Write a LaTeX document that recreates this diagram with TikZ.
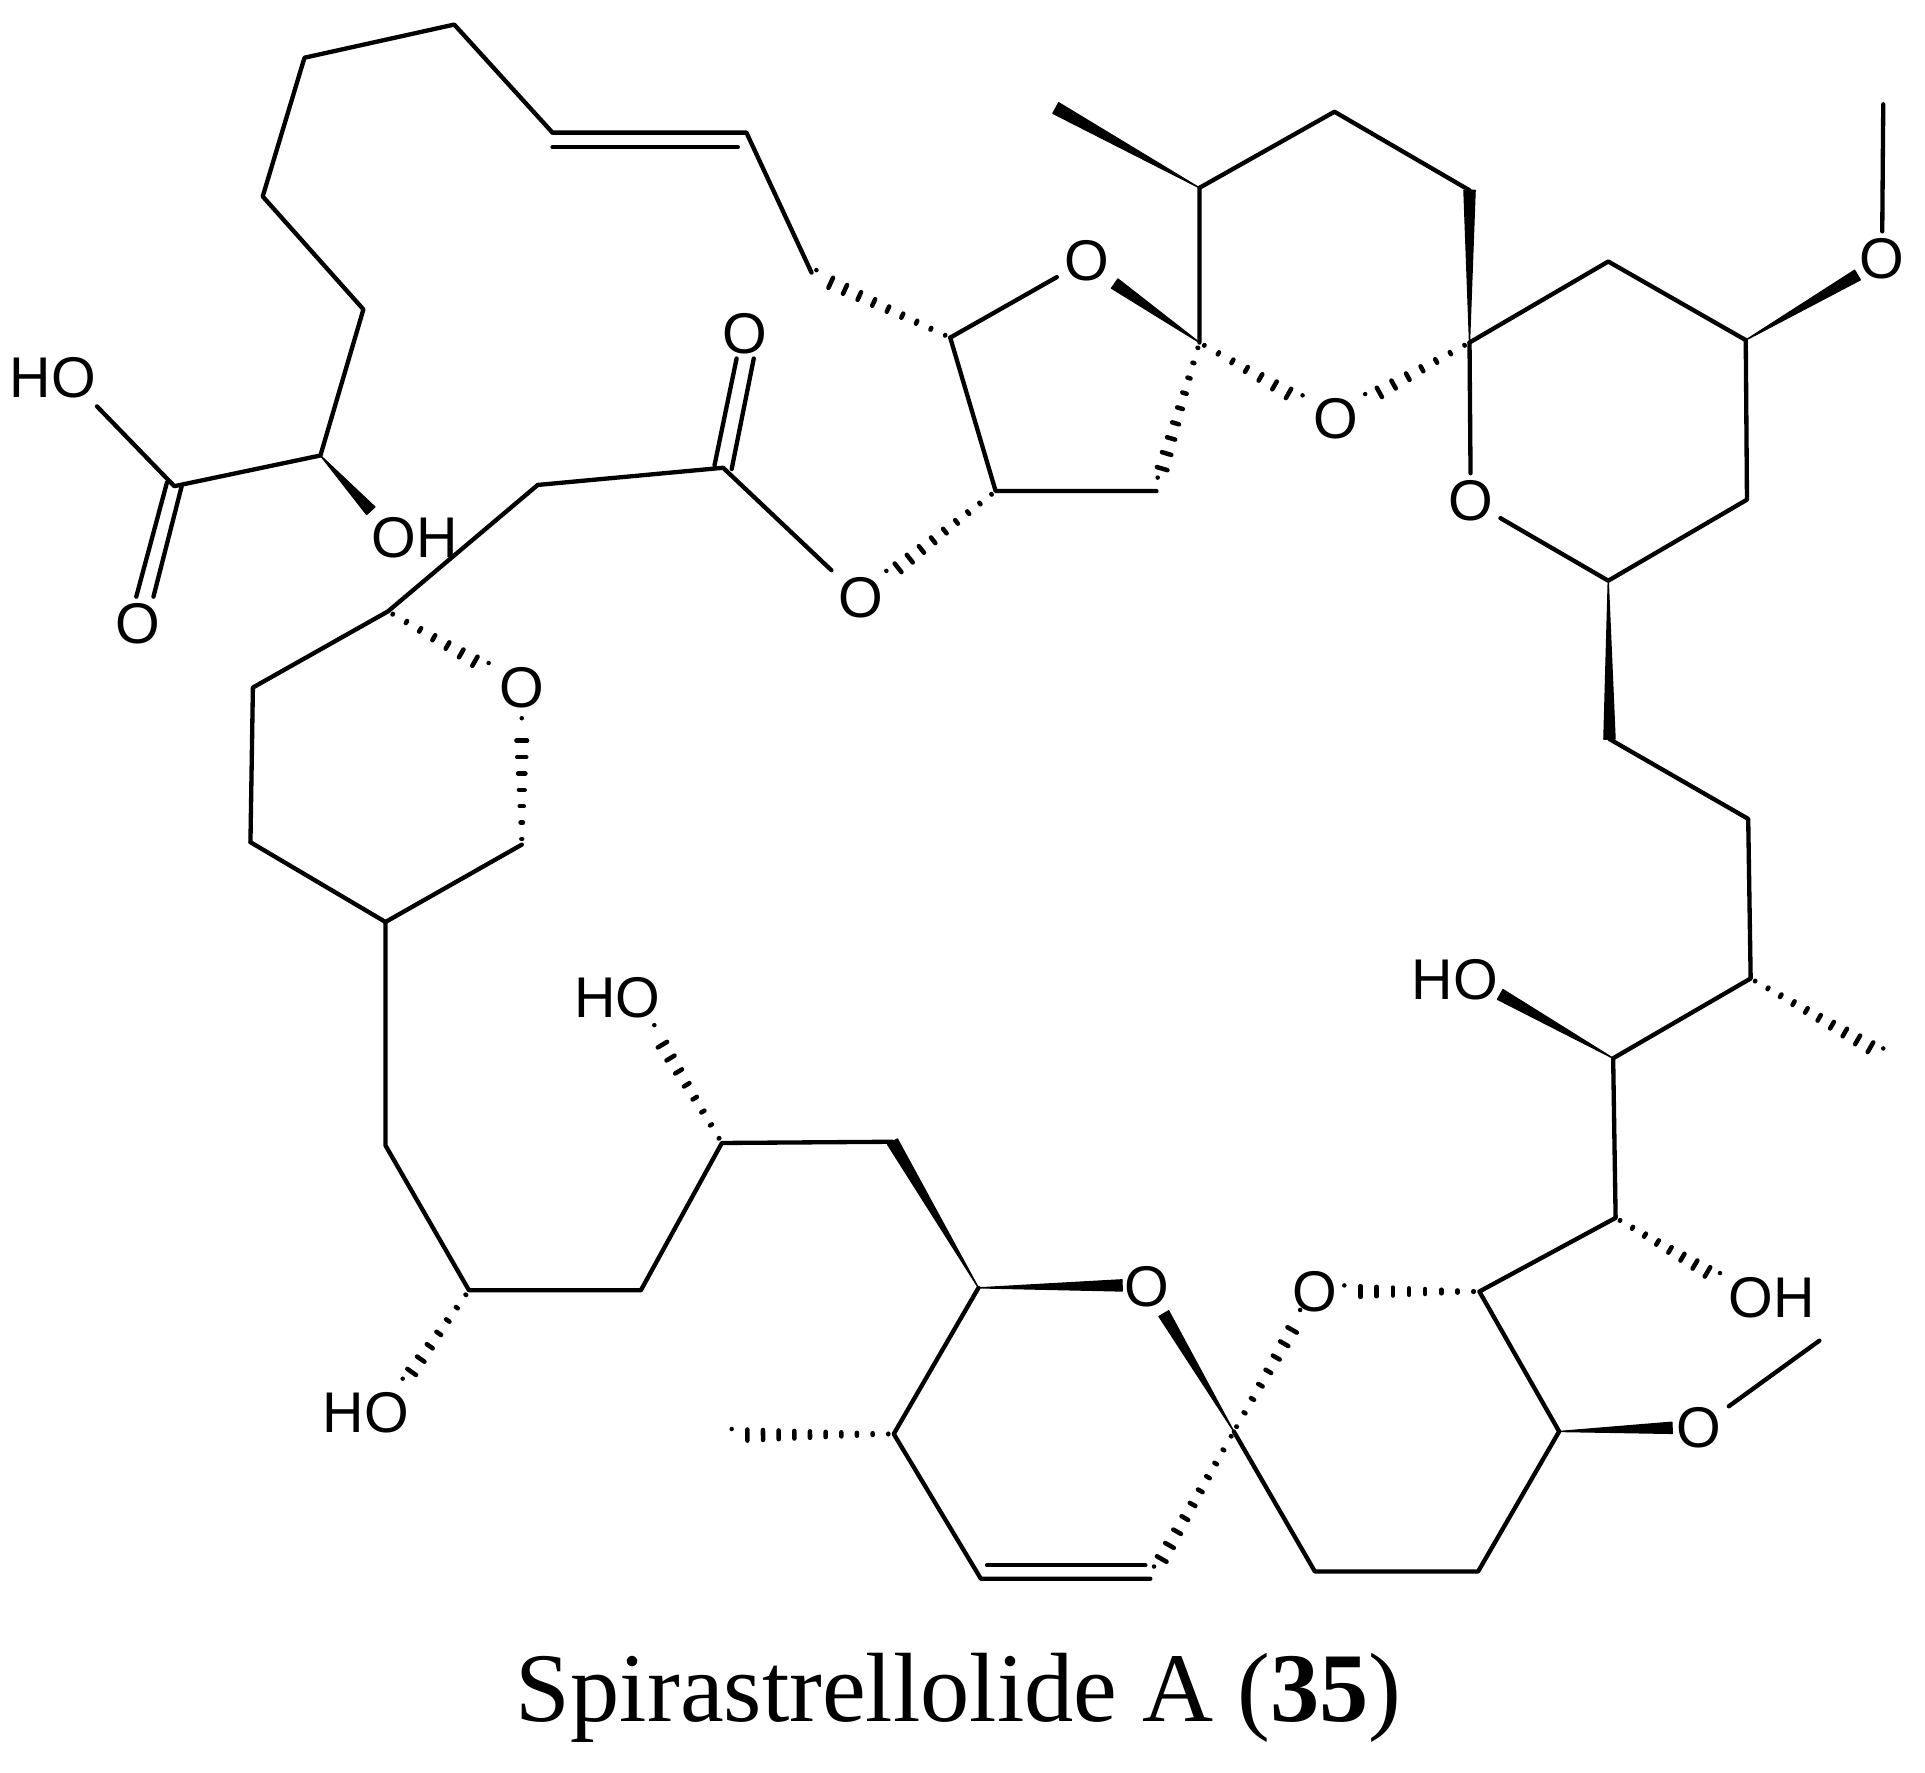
\documentclass[tikz,border=0pt]{standalone}
\usepackage{fontspec}
\setmainfont{Liberation Serif}
\newfontfamily\atomfont{Liberation Sans}
\usetikzlibrary{calc}
\tikzset{
  bond/.style={line width=1.0pt,line join=round,line cap=round},
  atom/.style={inner sep=1.5pt,font=\atomfont\fontsize{13.3}{13.3}\selectfont},
  caption/.style={inner sep=0pt,font=\fontsize{22.8}{25}\selectfont},
  hashdash/.style={line width=1.05pt,line cap=round},
}
\newcommand{\wedgeb}[3]{\filldraw[line width=0.3pt,line join=round] (#1) -- ($(#2)!#3!90:(#1)$) -- ($(#2)!#3!-90:(#1)$) -- cycle;}
\newcommand{\hashb}[4]{%
  \foreach \i in {1,...,#3}{%
    \pgfmathsetmacro{\tt}{(\i-0.65)/(#3-0.65)}%
    \pgfmathsetmacro{\hw}{0.02+(#4)*\tt}%
    \draw[hashdash] ($($(#1)!\tt!(#2)$)!\hw pt!90:(#2)$) -- ($($(#1)!\tt!(#2)$)!\hw pt!-90:(#2)$);
  }}
\begin{document}
\begin{tikzpicture}[x=0.01cm,y=-0.01cm]
\useasboundingbox (0,0) rectangle (1568,1443.4);
% atom labels
\node[atom] (ho1) at (43,308) {HO};
\node[atom] (o1) at (112,508) {O};
\node[atom] (oh1) at (338,438) {OH};
\node[atom] (o2) at (607,272) {O};
\node[atom] (o3) at (701,487) {O};
\node[atom] (o4) at (425,560) {O};
\node[atom] (o5) at (885,212) {O};
\node[atom] (o6) at (1088,341) {O};
\node[atom] (o7) at (1198,408) {O};
\node[atom] (o8) at (1533,211) {O};
\node[atom] (ho2) at (1185,798) {HO};
\node[atom] (oh2) at (1443,1057) {OH};
\node[atom] (o9) at (1071,1052) {O};
\node[atom] (o10) at (934,1048) {O};
\node[atom] (o11) at (1384,1163) {O};
\node[atom] (ho3) at (503,813) {HO};
\node[atom] (ho4) at (298,1151) {HO};
\node[caption] (cap) at (781,1383) {Spirastrellolide A (\textbf{35})};
% skeleton coordinates
\foreach \n/\x/\y in {a1/370/20,a2/248/47,a3/214/160,a4/296/252,a5/261/371,a6/142/396,
 b1/450/108,b2/608/108,b3/661/222,b4/774/275,b5/811/400,b6/942/400,s1/977/279,
 c1/977/153,c2/1087/91,c3/1197/155,c4/860/88,s2/1197/279,
 d1/1310/213,d2/1422/277,d3/1423/407,d4/1310/473,d5/1534/85,
 e1/1311/602,e2/1424/667,e3/1426/797,e4/1534/859,e5/1314/862,e6/1316/992,e7/1205/1052,
 f1/1270/1166,f2/1204/1280,f3/1071/1280,s3/1005/1166,f4/1482/1092,
 g1/937/1286,g2/799/1286,g3/728/1168,g4/596/1169,g5/797/1049,g6/727/930,
 h1/588/931,h2/522/1051,h3/382/1051,h4/314/933,h5/314/751,
 i1/204/686,i2/206/560,i3/316/498,i4/425/688,i5/438/395,i6/589/381,
 wa/302/416,wb/908/231,wc/1513/224,wd/1222/810,we/1362/1163,wf/948/1070,wg/914/1047,
 ha/722/470,hb/398/545,hc/425/590,hd/533/840,he/328/1128,hf/1061/327,hg/1112/326,
 hh/1059/1072,hi/1095/1052,hj/1401/1042,hk/940/1281,hl/943/394,hm/665/225,ba/79/331,
 da/136/393,db/111/486,dc/148/396,dd/125/486,de/450/120,df/601/120,
 dg/933/1275,dh/804/1275,di/582/379,dj/600/292,dk/596/382,dl/614/292}{
  \coordinate (\n) at (\x,\y);
}
% plain bonds
\draw[bond] (ba) -- (a6) -- (a5) -- (a4) -- (a3) -- (a2) -- (a1) -- (b1);
\draw[bond] (b1) -- (b2) -- (b3);
\draw[bond] (de) -- (df);
\draw[bond] (da) -- (db);
\draw[bond] (dc) -- (dd);
\draw[bond] (i1) -- (i2) -- (i3) -- (i5) -- (i6) -- (o3);
\draw[bond] (h5) -- (i1);
\draw[bond] (h5) -- (i4);
\draw[bond] (di) -- (dj);
\draw[bond] (dk) -- (dl);
\draw[bond] (b4) -- (o5);
\draw[bond] (b4) -- (b5) -- (b6);
\draw[bond] (s1) -- (c1) -- (c2) -- (c3);
\draw[bond] (s2) -- (d1) -- (d2) -- (d3) -- (d4) -- (o7);
\draw[bond] (s2) -- (o7);
\draw[bond] (o8) -- (d5);
\draw[bond] (e1) -- (e2) -- (e3) -- (e5) -- (e6) -- (e7) -- (f1) -- (f2) -- (f3) -- (s3);
\draw[bond] (o11) -- (f4);
\draw[bond] (g1) -- (g2) -- (g3) -- (g5);
\draw[bond] (dg) -- (dh);
\draw[bond] (g6) -- (h1) -- (h2) -- (h3) -- (h4) -- (h5);
% wedge bonds
\wedgeb{a5}{wa}{1.3pt}
\wedgeb{s1}{wb}{1.3pt}
\wedgeb{c1}{c4}{1.4pt}
\wedgeb{s2}{c3}{1.3pt}
\wedgeb{d2}{wc}{1.3pt}
\wedgeb{d4}{e1}{1.3pt}
\wedgeb{e5}{wd}{1.3pt}
\wedgeb{f1}{we}{1.3pt}
\wedgeb{s3}{wf}{1.3pt}
\wedgeb{g5}{wg}{1.3pt}
\wedgeb{g5}{g6}{1.3pt}
% hashed bonds
\hashb{b4}{hm}{10}{1.4}
\hashb{s1}{hf}{8}{1.4}
\hashb{s2}{hg}{8}{1.4}
\hashb{s1}{hl}{10}{1.4}
\hashb{b5}{ha}{10}{1.4}
\hashb{i3}{hb}{8}{1.4}
\hashb{i4}{hc}{8}{1.4}
\hashb{h1}{hd}{9}{1.4}
\hashb{h3}{he}{8}{1.4}
\hashb{g3}{g4}{11}{1.4}
\hashb{s3}{hh}{9}{1.4}
\hashb{s3}{hk}{11}{1.4}
\hashb{e7}{hi}{9}{1.4}
\hashb{e6}{hj}{9}{1.4}
\hashb{e3}{e4}{11}{1.4}
\end{tikzpicture}
\end{document}
